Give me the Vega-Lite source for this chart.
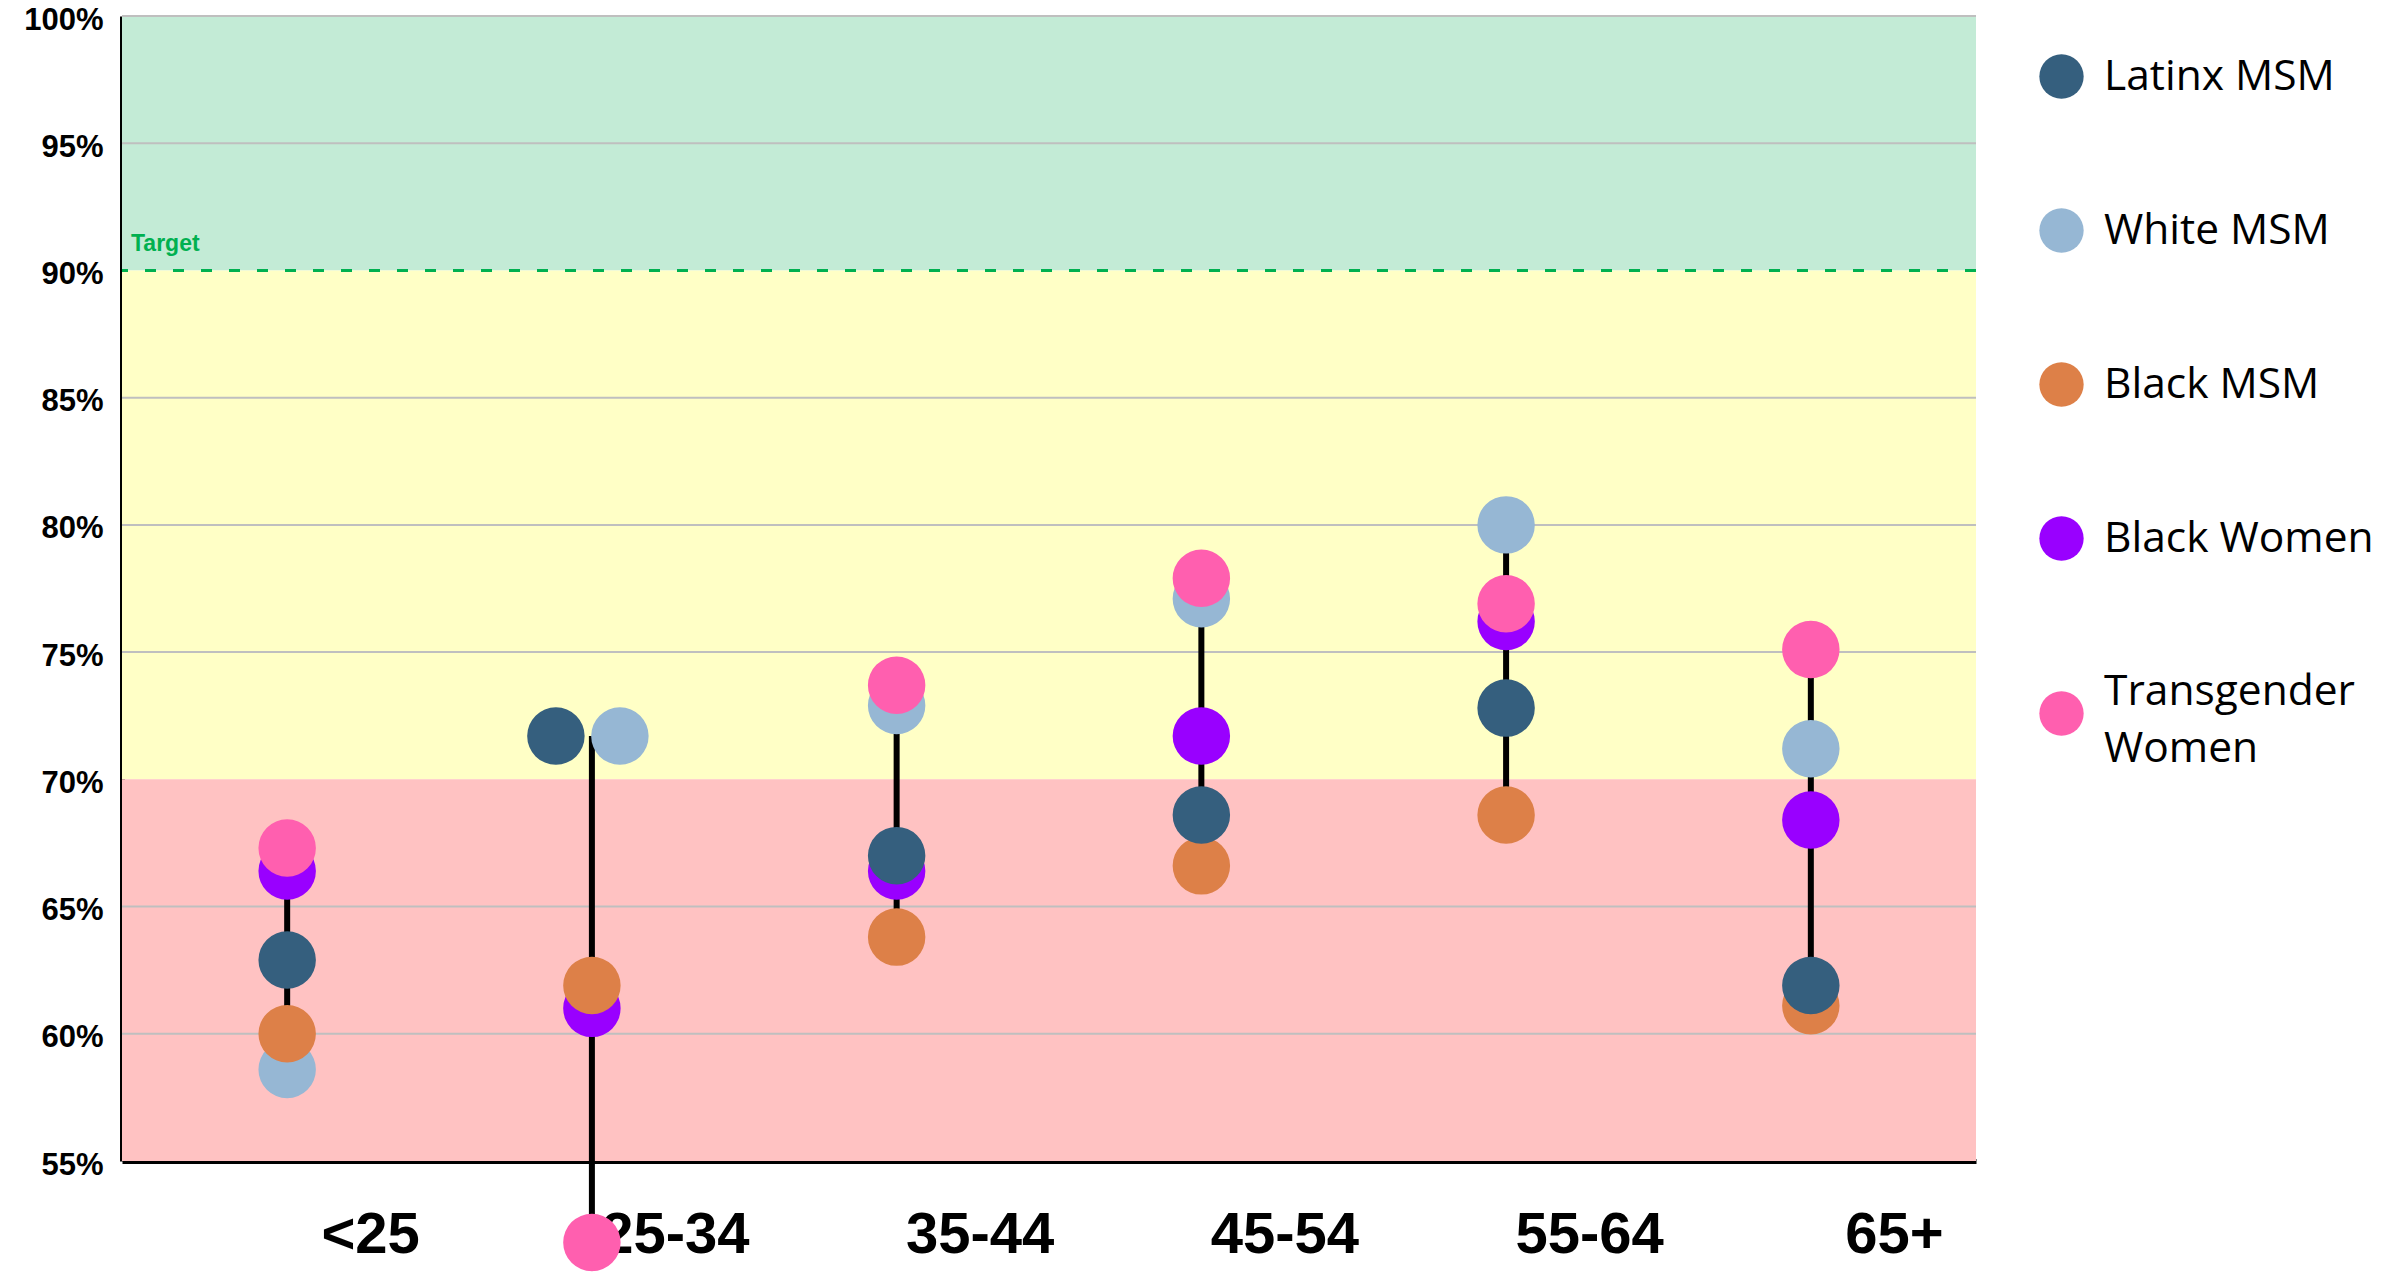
{
  "$schema": "https://vega.github.io/schema/vega-lite/v6.json",
  "width": 1854,
  "height": 1145,
  "autosize": {"type": "none"},
  "padding": {"left": 122, "top": 16, "right": 419, "bottom": 114},
  "background": "white",
  "config": {
    "view": {"stroke": null},
    "style": {"guide-label": {"lineHeight": 57}}
  },
  "datasets": {
    "bands": [
      {"zone": "Target met", "lo": 90, "hi": 100},
      {"zone": "Near target", "lo": 70, "hi": 90},
      {"zone": "Below", "lo": 55, "hi": 70}
    ],
    "grid": [{"v": 60}, {"v": 65}, {"v": 75}, {"v": 80}, {"v": 85}, {"v": 95}, {"v": 100}],
    "target": [{"label": "Target", "value": 90}],
    "points": [
      {"age": "<25", "group": "White MSM", "value": 58.6},
      {"age": "25-34", "group": "White MSM", "value": 71.7},
      {"age": "35-44", "group": "White MSM", "value": 72.9},
      {"age": "45-54", "group": "White MSM", "value": 77.1},
      {"age": "55-64", "group": "White MSM", "value": 80.0},
      {"age": "65+", "group": "White MSM", "value": 71.2},
      {"age": "<25", "group": "Black Women", "value": 66.4},
      {"age": "25-34", "group": "Black Women", "value": 61.0},
      {"age": "35-44", "group": "Black Women", "value": 66.4},
      {"age": "45-54", "group": "Black Women", "value": 71.7},
      {"age": "55-64", "group": "Black Women", "value": 76.2},
      {"age": "65+", "group": "Black Women", "value": 68.4},
      {"age": "<25", "group": "Black MSM", "value": 60.0},
      {"age": "25-34", "group": "Black MSM", "value": 61.9},
      {"age": "35-44", "group": "Black MSM", "value": 63.8},
      {"age": "45-54", "group": "Black MSM", "value": 66.6},
      {"age": "55-64", "group": "Black MSM", "value": 68.6},
      {"age": "65+", "group": "Black MSM", "value": 61.1},
      {"age": "<25", "group": "Latinx MSM", "value": 62.9},
      {"age": "25-34", "group": "Latinx MSM", "value": 71.7},
      {"age": "35-44", "group": "Latinx MSM", "value": 67.0},
      {"age": "45-54", "group": "Latinx MSM", "value": 68.6},
      {"age": "55-64", "group": "Latinx MSM", "value": 72.8},
      {"age": "65+", "group": "Latinx MSM", "value": 61.9},
      {"age": "<25", "group": "Transgender Women", "value": 67.3},
      {"age": "25-34", "group": "Transgender Women", "value": 51.8},
      {"age": "35-44", "group": "Transgender Women", "value": 73.7},
      {"age": "45-54", "group": "Transgender Women", "value": 77.9},
      {"age": "55-64", "group": "Transgender Women", "value": 76.9},
      {"age": "65+", "group": "Transgender Women", "value": 75.1}
    ]
  },
  "layer": [
    {
      "data": {"name": "bands"},
      "mark": {"type": "rect"},
      "encoding": {
        "y": {
          "field": "lo", "type": "quantitative",
          "scale": {"domain": [55, 100], "nice": false, "zero": false},
          "axis": {
            "values": [55, 60, 65, 70, 75, 80, 85, 90, 95, 100],
            "labelExpr": "datum.value + '%'",
            "title": null, "grid": false, "ticks": false,
            "domainColor": "black", "domainWidth": 5,
            "labelFont": "Liberation Sans", "labelFontWeight": "bold",
            "labelFontSize": 31, "labelColor": "black", "labelPadding": 19,
            "labelFlush": false, "labelOffset": 4
          }
        },
        "y2": {"field": "hi"},
        "fill": {
          "field": "zone", "type": "nominal",
          "scale": {"domain": ["Target met", "Near target", "Below"], "range": ["#C3EBD6", "#FFFFC6", "#FFC2C2"]},
          "legend": null
        }
      }
    },
    {
      "data": {"name": "grid"},
      "mark": {"type": "rule", "color": "#BFBFBF", "strokeWidth": 2},
      "encoding": {"y": {"field": "v", "type": "quantitative"}}
    },
    {
      "data": {"name": "target"},
      "mark": {"type": "rule", "color": "#00B050", "strokeWidth": 3, "strokeDash": [11, 17]},
      "encoding": {"y": {"field": "value", "type": "quantitative"}}
    },
    {
      "data": {"name": "target"},
      "mark": {"type": "text", "color": "#00B050", "font": "Liberation Sans", "fontWeight": "bold", "fontSize": 23, "align": "left", "baseline": "alphabetic", "dx": 9, "dy": -19},
      "encoding": {
        "x": {"value": 0},
        "y": {"field": "value", "type": "quantitative"},
        "text": {"field": "label"}
      }
    },
    {
      "data": {"name": "points"},
      "mark": {"type": "rule", "color": "black", "strokeWidth": 6},
      "encoding": {
        "x": {
          "field": "age", "type": "ordinal",
          "sort": ["<25", "25-34", "35-44", "45-54", "55-64", "65+"],
          "scale": {"type": "point", "padding": 0.542},
          "axis": {
            "title": null, "ticks": false, "grid": false, "labelAngle": 0,
            "domainColor": "black", "domainWidth": 5,
            "labelFont": "Liberation Sans", "labelFontWeight": "bold",
            "labelFontSize": 58, "labelColor": "black",
            "labelPadding": 45, "labelOffset": 83
          }
        },
        "y": {"aggregate": "min", "field": "value", "type": "quantitative"},
        "y2": {"aggregate": "max", "field": "value"}
      }
    },
    {
      "data": {"name": "points"},
      "transform": [{"filter": "!(datum.age == '25-34' && (datum.group == 'Latinx MSM' || datum.group == 'White MSM'))"}],
      "mark": {"type": "circle", "size": 3300, "opacity": 1},
      "encoding": {
        "x": {"field": "age", "type": "ordinal", "sort": ["<25", "25-34", "35-44", "45-54", "55-64", "65+"]},
        "y": {"field": "value", "type": "quantitative"},
        "color": {
          "field": "group", "type": "nominal",
          "scale": {
            "domain": ["Latinx MSM", "White MSM", "Black MSM", "Black Women", "Transgender Women"],
            "range": ["#355F7E", "#96B7D4", "#DD8048", "#9900FF", "#FF5FAF"]
          },
          "legend": {
            "orient": "none", "legendX": 1917, "legendY": 38,
            "title": null, "padding": 0,
            "symbolType": "circle", "symbolSize": 1963, "symbolOpacity": 1, "symbolStrokeWidth": 0,
            "labelFont": "Open Sans", "labelFontSize": 42.5, "labelColor": "black",
            "labelOffset": 20, "labelLimit": 500, "rowPadding": 109,
            "labelExpr": "datum.label == 'Transgender Women' ? ['Transgender', 'Women'] : datum.label",
            "encode": {"labels": {"update": {"dy": {"signal": "datum.label == 'Transgender Women' ? -22 : 0"}}}}
          }
        }
      }
    },
    {
      "data": {"name": "points"},
      "transform": [{"filter": "datum.age == '25-34' && datum.group == 'Latinx MSM'"}],
      "mark": {"type": "circle", "size": 3300, "opacity": 1, "xOffset": -36},
      "encoding": {
        "x": {"field": "age", "type": "ordinal", "sort": ["<25", "25-34", "35-44", "45-54", "55-64", "65+"]},
        "y": {"field": "value", "type": "quantitative"},
        "color": {"field": "group", "type": "nominal", "legend": null}
      }
    },
    {
      "data": {"name": "points"},
      "transform": [{"filter": "datum.age == '25-34' && datum.group == 'White MSM'"}],
      "mark": {"type": "circle", "size": 3300, "opacity": 1, "xOffset": 28},
      "encoding": {
        "x": {"field": "age", "type": "ordinal", "sort": ["<25", "25-34", "35-44", "45-54", "55-64", "65+"]},
        "y": {"field": "value", "type": "quantitative"},
        "color": {"field": "group", "type": "nominal", "legend": null}
      }
    }
  ]
}
